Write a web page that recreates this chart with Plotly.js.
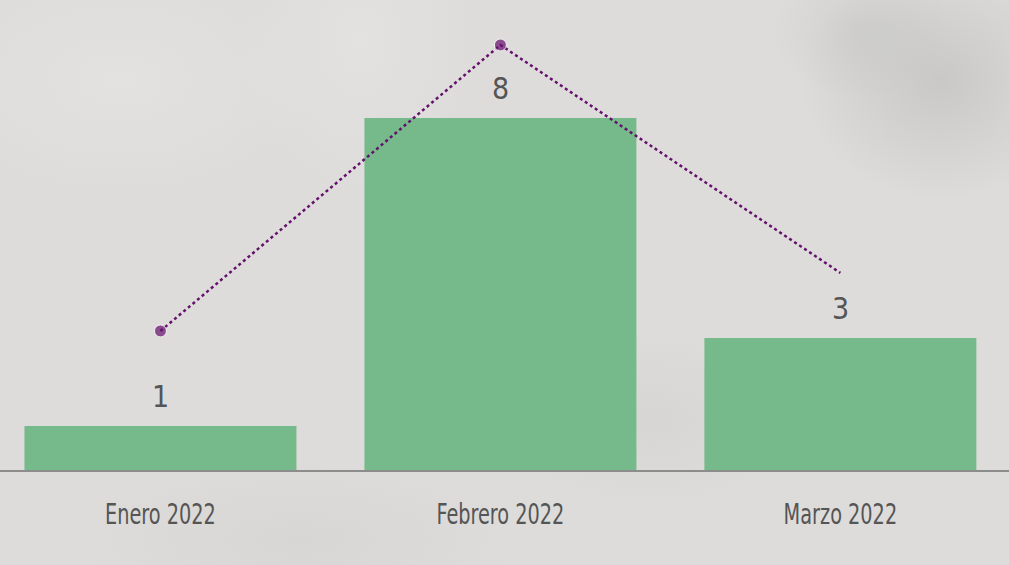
<!DOCTYPE html>
<html>
<head>
<meta charset="utf-8">
<script src="https://cdn.plot.ly/plotly-3.0.1.min.js"></script>
<style>
  html, body { margin:0; padding:0; width:1009px; height:565px; overflow:hidden; }
  body {
    background-color:#dddcda;
    background-image:
      radial-gradient(ellipse 140px 120px at 940px 80px, rgba(180,180,180,0.5), rgba(180,180,180,0) 100%),
      radial-gradient(ellipse 90px 70px at 860px 30px, rgba(195,195,195,0.45), rgba(195,195,195,0) 100%),
      radial-gradient(ellipse 200px 120px at 120px 80px, rgba(232,231,229,0.5), rgba(232,231,229,0) 100%),
      radial-gradient(ellipse 160px 90px at 650px 420px, rgba(205,204,202,0.4), rgba(205,204,202,0) 100%),
      radial-gradient(ellipse 220px 80px at 300px 540px, rgba(208,207,205,0.45), rgba(208,207,205,0) 100%),
      radial-gradient(ellipse 120px 160px at 360px 40px, rgba(230,230,230,0.55), rgba(230,230,230,0) 100%);
  }
  #chart { width:1009px; height:565px; }
</style>
</head>
<body>
<div id="chart"></div>
<script>
// ---- data ----
const categories = ["Enero 2022", "Febrero 2022", "Marzo 2022"];
const barValues = [1, 8, 3];
const lineValues = [3.16, 9.66, 4.48];
const labelTexts = ["1", "8", "3"];

const condensed = "'Liberation Sans Narrow', 'DejaVu Sans Condensed', sans-serif";

const barTrace = {
  type: "bar",
  x: categories,
  y: barValues,
  marker: { color: "#76b98a" },
  hoverinfo: "skip",
  showlegend: false
};

const lineTrace = {
  type: "scatter",
  mode: "lines+markers",
  x: categories,
  y: lineValues,
  line: { color: "#65106d", width: 2.5, dash: "dot" },
  marker: { color: "#65106d", size: [12, 12, 0] },
  hoverinfo: "skip",
  showlegend: false
};

const annotations = categories.map((c, i) => ({
  x: c,
  y: barValues[i],
  text: labelTexts[i],
  showarrow: false,
  xanchor: "center",
  yanchor: "bottom",
  yshift: 10,
  font: { family: condensed, size: 30, color: "#555555" }
}));

const layout = {
  width: 1009,
  height: 565,
  margin: { l: 0, r: 0, t: 0, b: 95, pad: 0 },
  paper_bgcolor: "rgba(0,0,0,0)",
  plot_bgcolor: "rgba(0,0,0,0)",
  bargap: 0.2,
  xaxis: {
    type: "category",
    range: [-0.472, 2.496],
    showgrid: false,
    zeroline: false,
    showline: true,
    linecolor: "#8c8c8c",
    linewidth: 2,
    ticks: "",
    ticklabelstandoff: 17,
    tickfont: { family: condensed, size: 29, color: "#555555" }
  },
  yaxis: {
    range: [0, 470 / 44],
    visible: false,
    showgrid: false,
    zeroline: false
  },
  annotations: annotations
};

// narrow the tick labels horizontally around their own centre (condensed look)
function condenseTicks() {
  document.querySelectorAll("#chart .xtick text").forEach(t => {
    const tr = t.getAttribute("transform") || "";
    if (tr.indexOf("scale") !== -1) return;
    const xv = parseFloat(t.getAttribute("x")) || 0;
    t.setAttribute("transform", tr + " translate(" + xv + ",0) scale(0.74,1) translate(" + (-xv) + ",0)");
  });
}

const gd = document.getElementById("chart");
Plotly.newPlot(gd, [barTrace, lineTrace], layout, { displayModeBar: false, staticPlot: true })
  .then(() => {
    condenseTicks();
    gd.on("plotly_afterplot", condenseTicks);
  });
</script>
</body>
</html>
